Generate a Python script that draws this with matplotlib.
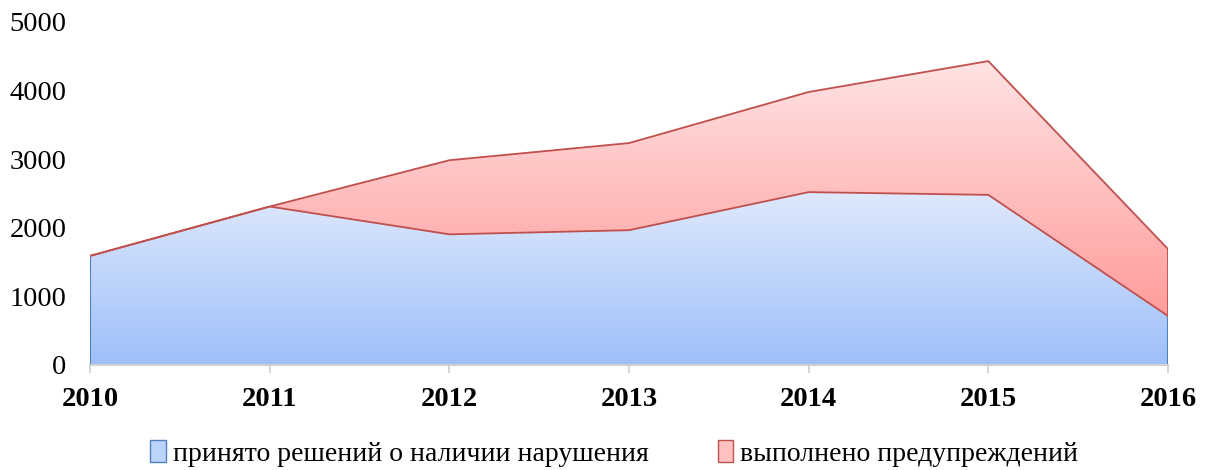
import matplotlib.pyplot as plt
import numpy as np
from matplotlib.colors import LinearSegmentedColormap
from matplotlib.patches import Patch

plt.rcParams['font.family'] = ['Liberation Serif', 'DejaVu Serif']

years = [2010, 2011, 2012, 2013, 2014, 2015, 2016]
decisions = [1590, 2310, 1905, 1965, 2520, 2480, 715]
warnings = [0, 0, 1080, 1270, 1460, 1950, 975]
labels = ['принято решений о наличии нарушения', 'выполнено предупреждений']


def gradient_fill(ax, x, lower, upper, top_color, bottom_color):
    poly = ax.fill_between(x, lower, upper, facecolor='none', edgecolor='none')
    ymin, ymax = min(lower), max(upper)
    cmap = LinearSegmentedColormap.from_list('g', [bottom_color, top_color])
    grad = np.linspace(0, 1, 256).reshape(-1, 1)
    im = ax.imshow(grad, cmap=cmap, aspect='auto', origin='lower',
                   extent=[x[0], x[-1], ymin, ymax], zorder=1)
    im.set_clip_path(poly.get_paths()[0], transform=ax.transData)
    return poly


fig = plt.figure(figsize=(12.09, 4.70), dpi=100)
ax = fig.add_axes([90 / 1209, 105 / 470, 1078 / 1209, 343 / 470])

x = np.array(years)
blue = np.array(decisions)
total = blue + np.array(warnings)

gradient_fill(ax, x, np.zeros_like(blue), blue, '#dfe9fd', '#9dbff8')
gradient_fill(ax, x, blue, total, '#ffe3e3', '#ff9c9c')

# outlines
ax.plot([x[0], x[0]], [0, blue[0]], color='#4f81bd', lw=1.5, zorder=3)
ax.plot([x[-1], x[-1]], [0, blue[-1]], color='#4f81bd', lw=1.5, zorder=3)
ax.plot(x, blue, color='#c0504d', lw=1.3, zorder=3)
ax.plot(x, total, color='#c0504d', lw=1.3, zorder=3)
ax.plot([x[-1], x[-1]], [blue[-1], total[-1]], color='#c0504d', lw=1.3, zorder=3)

ax.set_xlim(2010, 2016)
ax.set_ylim(0, 5000)
ax.set_xticks(years)
ax.set_xticklabels([str(y) for y in years], fontsize=20.5, fontweight='bold')
ax.set_yticks(range(0, 5001, 1000))
ax.tick_params(axis='y', length=0, labelsize=20.5, pad=17)
ax.tick_params(axis='x', length=6, color='#d0d0d0', width=1.2, pad=10)

for s in ['top', 'right', 'left']:
    ax.spines[s].set_visible(False)
ax.spines['bottom'].set_color('#d0d0d0')
ax.spines['bottom'].set_linewidth(1.5)
ax.spines['bottom'].set_zorder(4)

handles = [Patch(facecolor='#bcd3fb', edgecolor='#4f81bd', label=labels[0]),
           Patch(facecolor='#ffc0c0', edgecolor='#c0504d', label=labels[1])]
fig.legend(handles=handles, loc='center', bbox_to_anchor=(0.508, 0.035), ncol=2,
           frameon=False, fontsize=20, handlelength=0.55, handleheight=0.8,
           handletextpad=0.25, columnspacing=2.5)

fig.savefig('out.png', dpi=100)
